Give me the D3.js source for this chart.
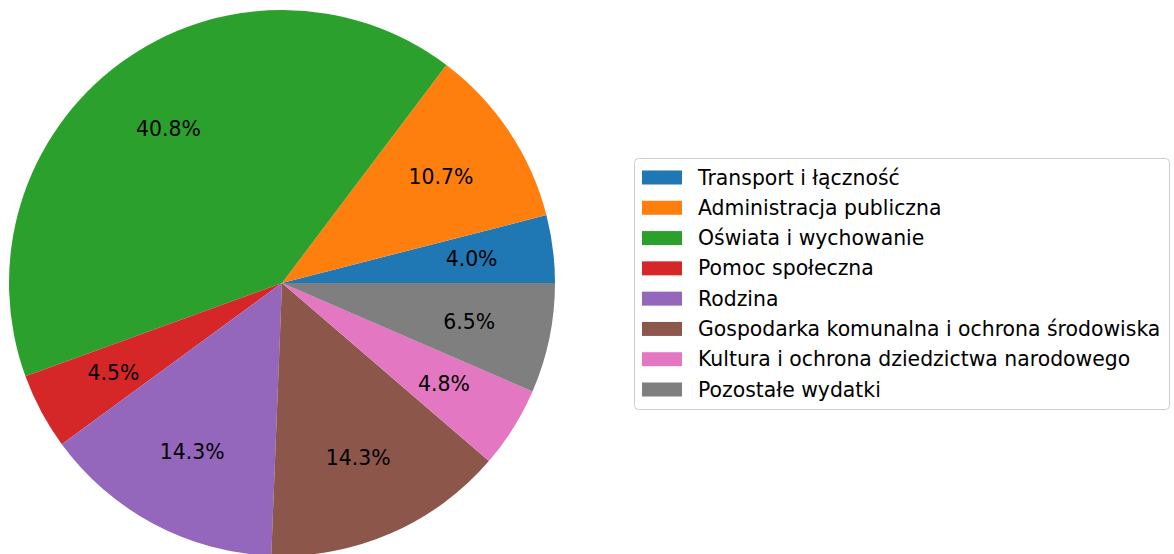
<!DOCTYPE html>
<html>
<head>
<meta charset="utf-8">
<script src="https://cdn.jsdelivr.net/npm/d3@7"></script>
<style>
  body { margin: 0; background: #fff; }
  text { font-family: "DejaVu Sans", sans-serif; }
</style>
</head>
<body>
<svg id="chart" width="1174" height="554"></svg>
<script>
let kategorie = ["Transport i łączność","Administracja publiczna","Oświata i wychowanie","Pomoc społeczna","Rodzina","Gospodarka komunalna i ochrona środowiska","Kultura i ochrona dziedzictwa narodowego","Pozostałe wydatki"];
let udzialy = [4.0,10.7,40.8,4.5,14.3,14.3,4.8,6.5];
let kolory = ["#1f77b4","#ff7f0e","#2ca02c","#d62728","#9467bd","#8c564b","#e377c2","#7f7f7f"];

let svg = d3.select("#chart");
let cx = 282, cy = 283, r = 273;
let fs = 20.4;

// matplotlib style: start at 3 o'clock, counterclockwise
let pie = d3.pie().sort(null).value(d => d)
    .startAngle(Math.PI/2).endAngle(Math.PI/2 - 2*Math.PI);
let luki = pie(udzialy);

let arc = d3.arc().innerRadius(0).outerRadius(r);
let arcLab = d3.arc().innerRadius(r*0.7).outerRadius(r*0.7);

let g = svg.append("g").attr("transform",`translate(${cx},${cy})`);

g.selectAll("path")
    .data(luki)
    .join("path")
    .attr("d",arc)
    .attr("fill",(d,i) => kolory[i]);

g.selectAll(".pct")
    .data(luki)
    .join("text")
    .attr("class","pct")
    .attr("x",d => arcLab.centroid(d)[0])
    .attr("y",d => arcLab.centroid(d)[1])
    .attr("text-anchor","middle")
    .attr("dominant-baseline","central")
    .attr("font-size",fs)
    .attr("fill","#000")
    .text(d => d.data.toFixed(1) + "%");

// legenda
let lx = 634, ly = 158, lw = 535, lh = 251;
let leg = svg.append("g");
leg.append("rect")
    .attr("x",lx + 0.5).attr("y",ly + 0.5)
    .attr("width",lw).attr("height",lh)
    .attr("rx",4)
    .attr("fill","#fff").attr("fill-opacity",0.8)
    .attr("stroke","#cccccc").attr("stroke-width",1);

let sy = d3.scaleLinear().domain([0,kategorie.length-1]).range([ly+19.5, ly+231.5]);

leg.selectAll(".patch")
    .data(kategorie)
    .join("rect")
    .attr("class","patch")
    .attr("x",lx+8).attr("y",(d,i) => sy(i) - 7)
    .attr("width",40).attr("height",14)
    .attr("fill",(d,i) => kolory[i]);

leg.selectAll(".lab")
    .data(kategorie)
    .join("text")
    .attr("class","lab")
    .attr("x",lx+64).attr("y",(d,i) => sy(i))
    .attr("dominant-baseline","central")
    .attr("font-size",fs)
    .attr("fill","#000")
    .text(d => d);
</script>
</body>
</html>
